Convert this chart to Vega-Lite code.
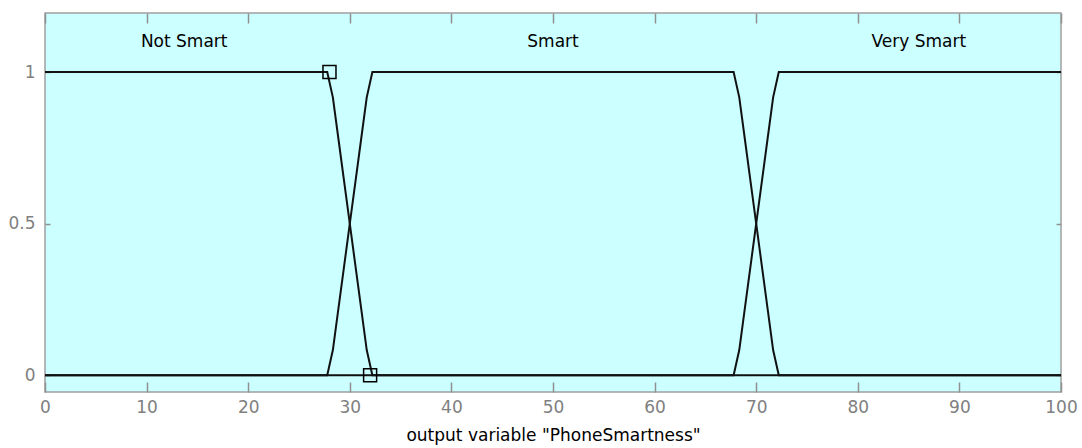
{
  "$schema": "https://vega.github.io/schema/vega-lite/v6.json",
  "autosize": "none",
  "width": 1016,
  "height": 379,
  "padding": {"left": 45, "top": 13, "right": 21, "bottom": 56},
  "background": "white",
  "config": {
    "view": {"fill": "#ccffff", "stroke": "#a0a0a0", "strokeWidth": 1.5},
    "axis": {
      "grid": false,
      "domain": false,
      "labelFont": "DejaVu Sans",
      "labelFontSize": 17,
      "labelColor": "#808080",
      "labelFlush": false,
      "titleFont": "DejaVu Sans",
      "titleFontSize": 17,
      "titleFontWeight": "normal",
      "titleColor": "#000000",
      "tickColor": "#909090",
      "tickWidth": 1.5
    }
  },
  "datasets": {
    "curves": [
      {"mf": "Not Smart", "x": 0, "y": 1},
      {"mf": "Not Smart", "x": 27.778, "y": 1},
      {"mf": "Not Smart", "x": 28.333, "y": 0.91667},
      {"mf": "Not Smart", "x": 28.889, "y": 0.77778},
      {"mf": "Not Smart", "x": 29.444, "y": 0.63889},
      {"mf": "Not Smart", "x": 30, "y": 0.5},
      {"mf": "Not Smart", "x": 30.556, "y": 0.36111},
      {"mf": "Not Smart", "x": 31.111, "y": 0.22222},
      {"mf": "Not Smart", "x": 31.667, "y": 0.08333},
      {"mf": "Not Smart", "x": 32.222, "y": 0},
      {"mf": "Not Smart", "x": 100, "y": 0},
      {"mf": "Smart", "x": 0, "y": 0},
      {"mf": "Smart", "x": 27.778, "y": 0},
      {"mf": "Smart", "x": 28.333, "y": 0.08333},
      {"mf": "Smart", "x": 28.889, "y": 0.22222},
      {"mf": "Smart", "x": 29.444, "y": 0.36111},
      {"mf": "Smart", "x": 30, "y": 0.5},
      {"mf": "Smart", "x": 30.556, "y": 0.63889},
      {"mf": "Smart", "x": 31.111, "y": 0.77778},
      {"mf": "Smart", "x": 31.667, "y": 0.91667},
      {"mf": "Smart", "x": 32.222, "y": 1},
      {"mf": "Smart", "x": 67.778, "y": 1},
      {"mf": "Smart", "x": 68.333, "y": 0.91667},
      {"mf": "Smart", "x": 68.889, "y": 0.77778},
      {"mf": "Smart", "x": 69.444, "y": 0.63889},
      {"mf": "Smart", "x": 70, "y": 0.5},
      {"mf": "Smart", "x": 70.556, "y": 0.36111},
      {"mf": "Smart", "x": 71.111, "y": 0.22222},
      {"mf": "Smart", "x": 71.667, "y": 0.08333},
      {"mf": "Smart", "x": 72.222, "y": 0},
      {"mf": "Smart", "x": 100, "y": 0},
      {"mf": "Very Smart", "x": 0, "y": 0},
      {"mf": "Very Smart", "x": 67.778, "y": 0},
      {"mf": "Very Smart", "x": 68.333, "y": 0.08333},
      {"mf": "Very Smart", "x": 68.889, "y": 0.22222},
      {"mf": "Very Smart", "x": 69.444, "y": 0.36111},
      {"mf": "Very Smart", "x": 70, "y": 0.5},
      {"mf": "Very Smart", "x": 70.556, "y": 0.63889},
      {"mf": "Very Smart", "x": 71.111, "y": 0.77778},
      {"mf": "Very Smart", "x": 71.667, "y": 0.91667},
      {"mf": "Very Smart", "x": 72.222, "y": 1},
      {"mf": "Very Smart", "x": 100, "y": 1}
    ],
    "labels": [
      {"label": "Not Smart", "x": 13.7, "y": 1.1},
      {"label": "Smart", "x": 50, "y": 1.1},
      {"label": "Very Smart", "x": 86, "y": 1.1}
    ],
    "markers": [
      {"x": 28, "y": 1},
      {"x": 32, "y": 0}
    ]
  },
  "resolve": {"axis": {"x": "independent", "y": "independent"}},
  "layer": [
    {
      "data": {"name": "curves"},
      "mark": {"type": "line", "color": "#111111", "strokeWidth": 2},
      "encoding": {
        "x": {
          "field": "x", "type": "quantitative",
          "scale": {"domain": [0, 100], "nice": false, "zero": false},
          "axis": {
            "orient": "bottom",
            "values": [0, 10, 20, 30, 40, 50, 60, 70, 80, 90, 100],
            "tickSize": -10,
            "labelPadding": 17,
            "titlePadding": 12,
            "title": "output variable \"PhoneSmartness\""
          }
        },
        "y": {
          "field": "y", "type": "quantitative",
          "scale": {"domain": [-0.055, 1.195], "nice": false, "zero": false},
          "axis": {
            "orient": "left",
            "values": [0, 0.5, 1],
            "format": "~g",
            "tickSize": -5,
            "labelPadding": 15,
            "title": null
          }
        },
        "detail": {"field": "mf", "type": "nominal"}
      }
    },
    {
      "data": {"name": "labels"},
      "mark": {"type": "text", "font": "DejaVu Sans", "fontSize": 17, "color": "#000000", "baseline": "middle", "align": "center"},
      "encoding": {
        "x": {
          "field": "x", "type": "quantitative",
          "axis": {
            "orient": "top",
            "values": [0, 10, 20, 30, 40, 50, 60, 70, 80, 90, 100],
            "tickSize": -10,
            "labels": false,
            "title": null
          }
        },
        "y": {
          "field": "y", "type": "quantitative",
          "axis": {
            "orient": "right",
            "values": [0, 0.5, 1],
            "tickSize": -5,
            "labels": false,
            "title": null
          }
        },
        "text": {"field": "label", "type": "nominal"}
      }
    },
    {
      "data": {"name": "markers"},
      "mark": {"type": "point", "shape": "square", "filled": false, "size": 169, "stroke": "#000000", "strokeWidth": 1.5, "opacity": 1},
      "encoding": {
        "x": {"field": "x", "type": "quantitative", "axis": null},
        "y": {"field": "y", "type": "quantitative", "axis": null}
      }
    }
  ]
}
